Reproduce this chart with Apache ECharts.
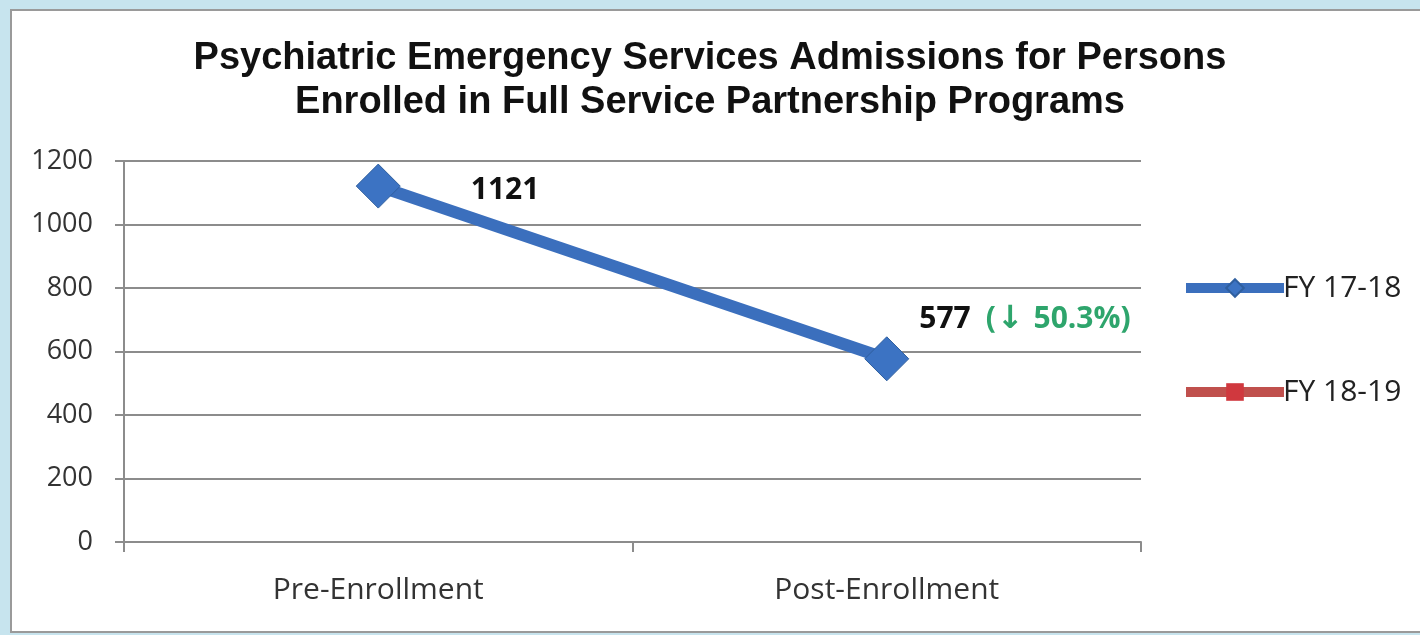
<!DOCTYPE html>
<html>
<head>
<meta charset="utf-8">
<script src="https://cdn.jsdelivr.net/npm/echarts@6/dist/echarts.min.js"></script>
<style>
html,body{margin:0;padding:0;background:#c7e4ee;}
#c{width:1420px;height:635px;}
</style>
</head>
<body>
<div id="c"></div>
<script>
const titleLines = ['Psychiatric Emergency Services Admissions for Persons', 'Enrolled in Full Service Partnership Programs'];
const categories = ['Pre-Enrollment', 'Post-Enrollment'];
const seriesNames = ['FY 17-18', 'FY 18-19'];
const fy1718 = [1121, 577];
const fy1819 = [null, null];
const changeLabel = '50.3%';
const yTicks = { min: 0, max: 1200, interval: 200 };

const chart = echarts.init(document.getElementById('c'), null, { renderer: 'canvas' });
const font = 'Open Sans';
const option = {
  backgroundColor: '#c7e4ee',
  animation: false,
  graphic: [{
    type: 'rect', left: 10, top: 9, z: -10,
    shape: { width: 1420, height: 622 },
    style: { fill: '#ffffff', stroke: '#9a9a9a', lineWidth: 2 }
  }],
  title: {
    text: titleLines.join('\n'),
    left: 'center', top: 32,
    padding: [5, 5, 5, 18],
    textStyle: { fontFamily: 'Liberation Sans', fontWeight: 'bold', fontSize: 38, lineHeight: 44, color: '#111' }
  },
  legend: {
    orient: 'vertical', left: 1176, top: 268,
    itemWidth: 98, itemHeight: 22, itemGap: 74,
    lineStyle: { width: 10 },
    textStyle: { fontFamily: font, fontSize: 30, color: '#222', padding: [0, 0, 0, -6] },
    data: seriesNames
  },
  grid: { left: 124, right: 279, top: 161, bottom: 93 },
  xAxis: {
    type: 'category', data: categories, boundaryGap: true,
    axisLine: { lineStyle: { color: '#8c8c8c', width: 2 } },
    axisTick: { show: true, length: 10, lineStyle: { color: '#8c8c8c', width: 2 } },
    axisLabel: { fontFamily: font, fontSize: 30, color: '#333', margin: 33 }
  },
  yAxis: {
    type: 'value', min: yTicks.min, max: yTicks.max, interval: yTicks.interval,
    axisLine: { show: true, lineStyle: { color: '#8c8c8c', width: 2 } },
    axisTick: { show: true, length: 9, lineStyle: { color: '#8c8c8c', width: 2 } },
    axisLabel: { fontFamily: font, fontSize: 27, color: '#333', margin: 31, formatter: v => String(v) },
    splitLine: { lineStyle: { color: '#8c8c8c', width: 2 } }
  },
  series: [{
    name: seriesNames[0], type: 'line', data: fy1718.map((v, i) => ({
      value: v,
      label: {
        show: true, position: 'right', distance: 5,
        offset: i === 0 ? [65, 4] : [5, -39],
        formatter: i === 0 ? '{v|{c}}' : '{v|{c}}{s|}{g|(}{a|\u2193}{g| ' + changeLabel + ')}',
        rich: {
          v: { fontFamily: font, fontWeight: 'bold', fontSize: 30, color: '#111' },
          s: { width: 15 },
          g: { fontFamily: font, fontWeight: 'bold', fontSize: 30, color: '#2ea56c' },
          a: { fontFamily: 'DejaVu Sans', fontWeight: 'bold', fontSize: 32, color: '#2ea56c', padding: [0, 2, 0, 1] }
        }
      }
    })),
    symbol: 'diamond', symbolSize: 44,
    lineStyle: { color: '#3b6fbd', width: 12 },
    itemStyle: { color: '#3c73c3', borderColor: '#2f5f9f', borderWidth: 1 },
    z: 3
  }, {
    name: seriesNames[1], type: 'line', data: fy1819,
    symbol: 'rect', symbolSize: 20,
    lineStyle: { color: '#c0504d', width: 12 },
    itemStyle: { color: '#d0383e' }
  }]
};
chart.setOption(option);
</script>
</body>
</html>
